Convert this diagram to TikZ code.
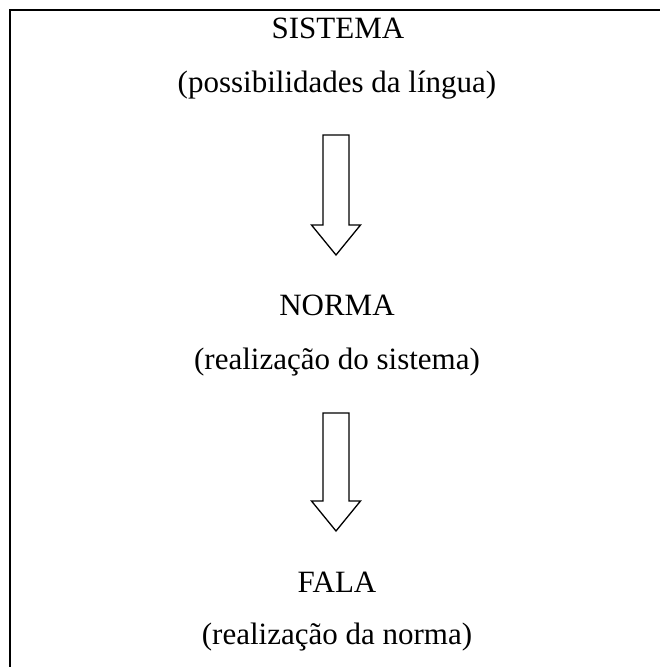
\documentclass[tikz,border=0pt]{standalone}
\usepackage{fontspec}
\setmainfont{Liberation Serif}
\usetikzlibrary{calc}

\begin{document}
\begin{tikzpicture}[every node/.style={inner sep=0pt,anchor=base,black,font=\fontsize{31}{37}\selectfont},
	blockarrow/.style={draw,line width=1.3pt,line join=miter,fill=white},
	frameline/.style={draw,line width=2.2pt}
]%shaft 26pt, head 49pt x 30pt
\useasboundingbox (0pt,0pt) rectangle (659pt,-667pt);
\path[frameline] (10pt,-680pt) -- (10pt,-10pt) -- (680pt,-10pt);
\node (sistema) at (338pt, -38pt) {SISTEMA};
\node (possib) at (337pt, -92pt) {(possibilidades da língua)};
\node (norma) at (337pt, -315pt) {NORMA};
\node (realsis) at (337pt, -369pt) {(realização do sistema)};
\node (fala) at (337pt, -592pt) {FALA};
\node (realnorm) at (337pt, -644pt) {(realização da norma)};
\coordinate (top1) at (336pt, -135pt);
\coordinate (tip1) at (336pt, -255pt);
\coordinate (top2) at (336pt, -413pt);
\coordinate (tip2) at (336pt, -531pt);
\foreach \a/\b in {top1/tip1, top2/tip2}
\path[blockarrow] ($(\a)+(-13pt,0pt)$) -- ($(\a)+(13pt,0pt)$)
	-- ($(\b)+(13pt,30pt)$) -- ($(\b)+(24.5pt,30pt)$) -- (\b)
	-- ($(\b)+(-24.5pt,30pt)$) -- ($(\b)+(-13pt,30pt)$) -- cycle;
\end{tikzpicture}
\end{document}
